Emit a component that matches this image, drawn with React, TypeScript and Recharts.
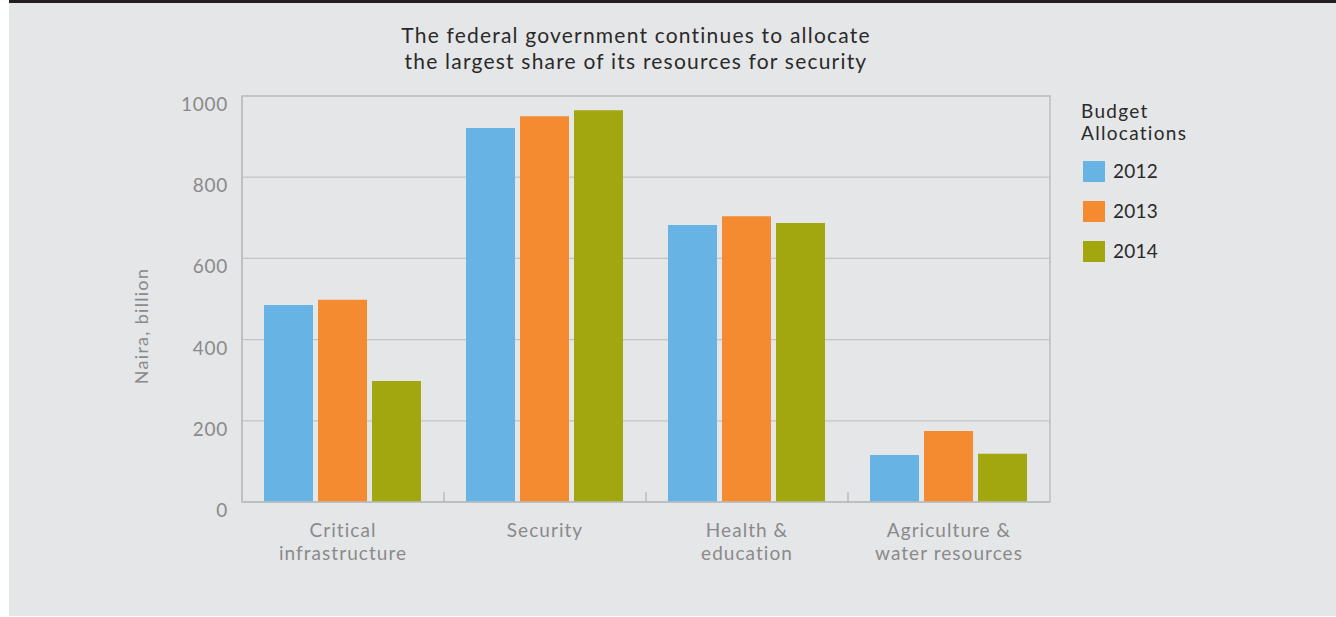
import React from 'react';
import { BarChart, Bar, XAxis, YAxis, CartesianGrid, Legend, ReferenceArea } from 'recharts';

const categories = ['Critical\ninfrastructure', 'Security', 'Health &\neducation', 'Agriculture &\nwater resources'];
const series2012 = [485, 921, 682, 116];
const series2013 = [498, 950, 704, 175];
const series2014 = [298, 965, 687, 119];
const seriesNames = ['2012', '2013', '2014'];
const seriesColors = ['#66b3e4', '#f58b31', '#a2a60f'];
const yTicks = [0, 200, 400, 600, 800, 1000];
const titleLines = ['The federal government continues to allocate', 'the largest share of its resources for security'];
const legendTitle = ['Budget', 'Allocations'];
const yAxisLabel = 'Naira, billion';

const data = categories.map((c, i) => ({
  category: c,
  y2012: series2012[i],
  y2013: series2013[i],
  y2014: series2014[i],
}));

const FONT = 'Lato, sans-serif';
const AXIS_COLOR = '#8a8a8a';
const DARK = '#2a2a2a';
const GRID = '#c3c4c6';
const FRAME = '#bdbec0';

const XTick = (props: any) => {
  const { x, y, payload, index } = props;
  const lines = String(payload.value).split('\n');
  const half = typeof payload.offset === 'number' ? payload.offset : 0;
  return (
    <g>
      {index > 0 && half > 0 && (
        <line x1={x - half} x2={x - half} y1={y - 10} y2={y} stroke="#b0b1b3" strokeWidth={1.2} />
      )}
      {lines.map((l, i) => (
        <text key={i} x={x} y={y + 35 + i * 23} textAnchor="middle" fill={AXIS_COLOR} fontSize={19} fontFamily={FONT} letterSpacing={1.05}>
          {l}
        </text>
      ))}
    </g>
  );
};

const YTick = (props: any) => {
  const { x, y, payload } = props;
  return (
    <text x={x} y={y + 15} textAnchor="end" fill={AXIS_COLOR} fontSize={19} fontFamily={FONT} letterSpacing={0.7}>
      {payload.value}
    </text>
  );
};

const YLabel = (props: any) => {
  const vb = props.viewBox;
  const cx = vb.x + 132;
  const cy = vb.y + vb.height / 2 + 27;
  return (
    <text x={cx} y={cy} transform={`rotate(-90 ${cx} ${cy})`} textAnchor="middle" dominantBaseline="central" fill={AXIS_COLOR} fontSize={18} fontFamily={FONT} letterSpacing={1.3}>
      {yAxisLabel}
    </text>
  );
};

const LegendContent = (props: any) => {
  const payload = props.payload || [];
  return (
    <div style={{ position: 'relative', width: 200, height: 180, fontFamily: FONT, color: DARK }}>
      <div style={{ position: 'absolute', left: 0, top: 3.7, fontSize: 19, lineHeight: '22.5px', letterSpacing: 1.3, whiteSpace: 'nowrap' }}>
        {legendTitle.map((t, i) => (
          <div key={i}>{t}</div>
        ))}
      </div>
      {payload.map((p: any, i: number) => (
        <div key={i}>
          <div style={{ position: 'absolute', left: 2, top: 65 + i * 40, width: 22, height: 21, background: p.color }} />
          <div style={{ position: 'absolute', left: 32, top: 63.5 + i * 40, fontSize: 19, lineHeight: '21px', letterSpacing: 0.2 }}>{p.value}</div>
        </div>
      ))}
    </div>
  );
};

export default function App() {
  return (
    <div style={{ position: 'absolute', left: 0, top: 0, width: 1336, height: 617, background: '#ffffff', overflow: 'hidden' }}>
      <div style={{ position: 'absolute', left: 9, top: 0, width: 1327, height: 3, background: '#231f20' }} />
      <div style={{ position: 'absolute', left: 9, top: 3, width: 1327, height: 613, background: '#e5e6e8' }} />
      <div style={{ position: 'absolute', left: 336, top: 22.2, width: 600, textAlign: 'center', fontFamily: FONT, fontSize: 21, lineHeight: '26px', letterSpacing: 1.2, color: DARK }}>
        {titleLines.map((t, i) => (
          <div key={i}>{t}</div>
        ))}
      </div>
      <div style={{ position: 'absolute', left: 0, top: 0 }}>
        <BarChart
          width={1336}
          height={617}
          data={data}
          margin={{ top: 96, right: 286, bottom: 55, left: 9 }}
          barCategoryGap={22}
          barGap={5}
        >
          <CartesianGrid horizontal={true} vertical={false} stroke={GRID} strokeWidth={1.2} />
          <ReferenceArea y1={0} y2={1000} fill="none" fillOpacity={0} stroke={FRAME} strokeWidth={1.5} />
          <XAxis
            dataKey="category"
            height={60}
            tick={<XTick />}
            tickLine={false}
            tickSize={0}
            tickMargin={0}
            axisLine={{ stroke: FRAME, strokeWidth: 1.5 }}
            interval={0}
          />
          <YAxis
            width={233}
            domain={[0, 1000]}
            ticks={yTicks}
            tick={<YTick />}
            tickLine={false}
            tickSize={0}
            tickMargin={14}
            axisLine={{ stroke: FRAME, strokeWidth: 1.5 }}
            label={{ content: <YLabel /> }}
          />
          <Legend
            layout="horizontal"
            verticalAlign="middle"
            align="center"
            content={<LegendContent />}
            wrapperStyle={{ left: 1081, top: 96, width: 200, height: 180 }}
          />
          <Bar dataKey="y2012" name={seriesNames[0]} fill={seriesColors[0]} isAnimationActive={false} />
          <Bar dataKey="y2013" name={seriesNames[1]} fill={seriesColors[1]} isAnimationActive={false} />
          <Bar dataKey="y2014" name={seriesNames[2]} fill={seriesColors[2]} isAnimationActive={false} />
        </BarChart>
      </div>
    </div>
  );
}
